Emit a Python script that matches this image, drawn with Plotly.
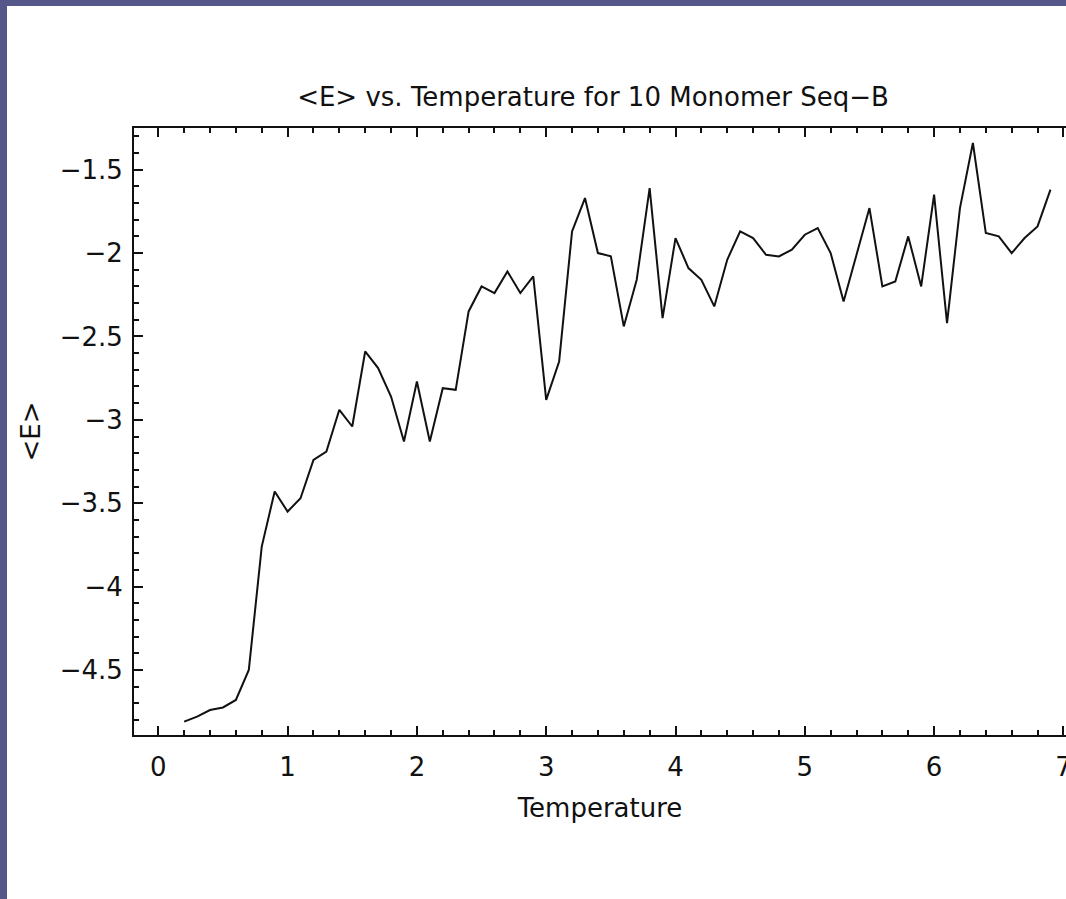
import plotly.graph_objects as go

temperature = [0.2, 0.3, 0.4, 0.5, 0.6, 0.7, 0.8, 0.9, 1.0, 1.1, 1.2, 1.3, 1.4, 1.5, 1.6, 1.7,
               1.8, 1.9, 2.0, 2.1, 2.2, 2.3, 2.4, 2.5, 2.6, 2.7, 2.8, 2.9, 3.0, 3.1, 3.2, 3.3,
               3.4, 3.5, 3.6, 3.7, 3.8, 3.9, 4.0, 4.1, 4.2, 4.3, 4.4, 4.5, 4.6, 4.7, 4.8, 4.9,
               5.0, 5.1, 5.2, 5.3, 5.4, 5.5, 5.6, 5.7, 5.8, 5.9, 6.0, 6.1, 6.2, 6.3, 6.4, 6.5,
               6.6, 6.7, 6.8, 6.9]
energy = [-4.81, -4.78, -4.74, -4.725, -4.68, -4.50, -3.76, -3.43, -3.55, -3.47, -3.24, -3.19,
          -2.94, -3.04, -2.59, -2.69, -2.86, -3.13, -2.77, -3.13, -2.81, -2.82, -2.35, -2.20,
          -2.24, -2.11, -2.24, -2.14, -2.88, -2.65, -1.87, -1.67, -2.00, -2.02, -2.44, -2.16,
          -1.61, -2.39, -1.91, -2.09, -2.16, -2.32, -2.04, -1.87, -1.91, -2.01, -2.02, -1.98,
          -1.89, -1.85, -2.00, -2.29, -2.01, -1.73, -2.20, -2.17, -1.90, -2.20, -1.65, -2.42,
          -1.73, -1.34, -1.88, -1.90, -2.00, -1.91, -1.84, -1.62]

x_ticks = [0, 1, 2, 3, 4, 5, 6, 7]
x_tick_labels = ["0", "1", "2", "3", "4", "5", "6", "7"]
y_ticks = [-4.5, -4, -3.5, -3, -2.5, -2, -1.5]
y_tick_labels = ["\u22124.5", "\u22124", "\u22123.5", "\u22123", "\u22122.5", "\u22122", "\u22121.5"]

title_text = "&lt;E&gt; vs. Temperature for 10 Monomer Seq\u2212B"
x_title = "Temperature"
y_title = "&lt;E&gt;"

W, H = 1066, 899
L, T, B = 134, 128, 164
plot_w = W - L
plot_h = H - T - B

FONT = "DejaVu Sans"
INK = "#111111"
FS = 26

fig = go.Figure()
fig.add_trace(go.Scatter(x=temperature, y=energy, mode="lines",
                         line=dict(color="#111111", width=2),
                         showlegend=False, hoverinfo="skip"))

def px_to_paper_x(p):
    return (p - L) / plot_w

def px_to_paper_y(p):
    return (H - B - p) / plot_h

strip = "#55578a"
shapes = [
    dict(type="rect", xref="paper", yref="paper", layer="above",
         x0=px_to_paper_x(0), x1=px_to_paper_x(7), y0=px_to_paper_y(H), y1=px_to_paper_y(0),
         fillcolor=strip, line=dict(width=0)),
    dict(type="rect", xref="paper", yref="paper", layer="above",
         x0=px_to_paper_x(0), x1=px_to_paper_x(W), y0=px_to_paper_y(6), y1=px_to_paper_y(0),
         fillcolor=strip, line=dict(width=0)),
]

fig.update_layout(
    width=W, height=H,
    margin=dict(l=L, r=0, t=T, b=B, autoexpand=False),
    paper_bgcolor="white", plot_bgcolor="white",
    font=dict(family=FONT, size=FS, color=INK),
    title=dict(text=title_text, x=593 / W, xanchor="center", xref="container",
               y=1 - 97 / H, yanchor="middle", yref="container",
               font=dict(family=FONT, size=FS, color=INK)),
    shapes=shapes,
)

fig.update_xaxes(
    range=[(L - 158.3) / 129.3, (W - 158.3) / 129.3],
    tickmode="array", tickvals=x_ticks, ticktext=x_tick_labels,
    ticks="inside", ticklen=9, tickwidth=2, tickcolor=INK,
    minor=dict(dtick=0.2, tick0=0, ticks="inside", ticklen=5, tickwidth=2, tickcolor=INK),
    showline=True, linecolor=INK, linewidth=2, mirror="ticks",
    showgrid=False, zeroline=False, automargin=False,
    ticklabeloverflow="allow", ticklabelstandoff=8,
    tickfont=dict(family=FONT, size=FS, color=INK),
    title=dict(text=x_title, standoff=18, font=dict(family=FONT, size=FS, color=INK)),
)
fig.update_yaxes(
    range=[-4.89, -1.25],
    tickmode="array", tickvals=y_ticks, ticktext=y_tick_labels,
    ticks="inside", ticklen=9, tickwidth=2, tickcolor=INK,
    minor=dict(dtick=0.1, tick0=0, ticks="inside", ticklen=5, tickwidth=2, tickcolor=INK),
    showline=True, linecolor=INK, linewidth=2, mirror=False,
    showgrid=False, zeroline=False, automargin=False,
    ticklabelstandoff=4,
    tickfont=dict(family=FONT, size=FS, color=INK),
    title=dict(text=y_title, standoff=12, font=dict(family=FONT, size=FS, color=INK)),
)

fig.write_html(
    "out.html",
    post_script=(
        "document.documentElement.style.overflow='hidden';"
        "document.body.style.overflow='hidden';"
        "document.body.style.margin='0';"
    ),
)
